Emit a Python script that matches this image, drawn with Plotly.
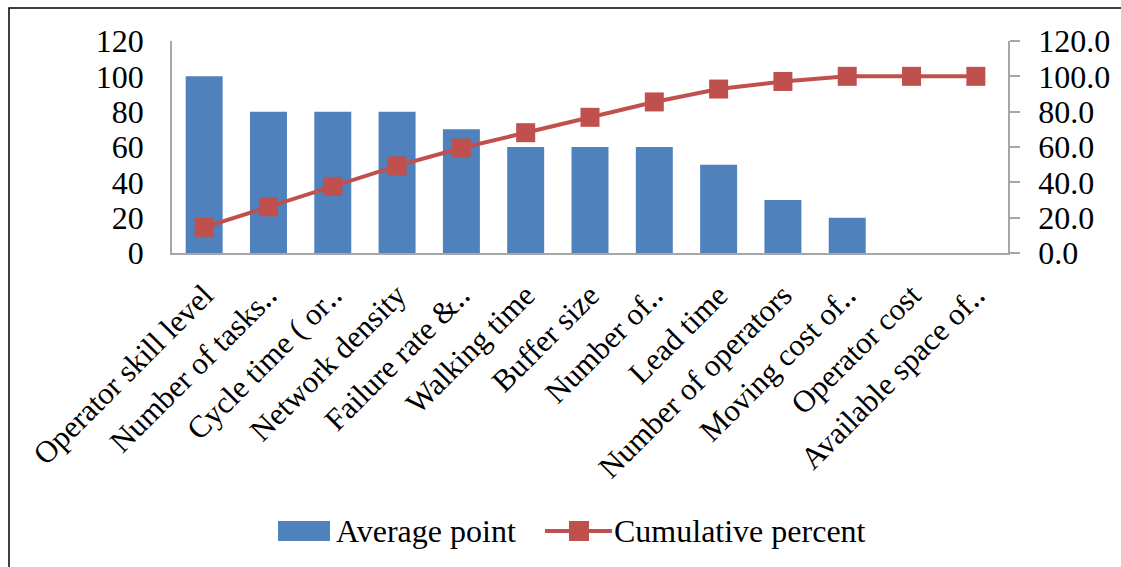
import plotly.graph_objects as go

categories = [
    "Operator skill level", "Number of tasks‥", "Cycle time ( or‥",
    "Network density", "Failure rate &‥", "Walking time", "Buffer size",
    "Number of‥", "Lead time", "Number of operators", "Moving cost of‥",
    "Operator cost", "Available space of‥",
]
average_point = [100, 80, 80, 80, 70, 60, 60, 60, 50, 30, 20, 0, 0]
cumulative_percent = [14.5, 26.1, 37.7, 49.3, 59.4, 68.1, 76.8, 85.5, 92.8, 97.1, 100.0, 100.0, 100.0]

left_ticks = [0, 20, 40, 60, 80, 100, 120]
right_ticks = [0, 20, 40, 60, 80, 100, 120]

BAR_COLOR = "#4F81BD"
LINE_COLOR = "#C0504D"
AXIS_COLOR = "#A6A6A6"

W, H = 1121, 567
ML, MR, MT, MB = 172, 113, 41, 314
pw, ph = W - ML - MR, H - MT - MB

def px_x(x):
    return (x - ML) / pw

def px_y(y):
    return (H - MB - y) / ph

font_family = "Liberation Serif"

fig = go.Figure()
fig.add_trace(go.Bar(
    x=categories, y=average_point, name="Average point",
    marker=dict(color=BAR_COLOR, line=dict(width=0)),
    showlegend=False,
))
fig.add_trace(go.Scatter(
    x=categories, y=cumulative_percent, name="Cumulative percent", yaxis="y2",
    mode="lines+markers",
    line=dict(color=LINE_COLOR, width=4),
    marker=dict(symbol="square", size=19, color=LINE_COLOR),
    showlegend=False,
))

fig.update_layout(
    width=W, height=H,
    margin=dict(l=ML, r=MR, t=MT, b=MB, autoexpand=False),
    paper_bgcolor="white", plot_bgcolor="white",
    bargap=0.425,
    font=dict(family=font_family, color="black"),
    showlegend=False,
    xaxis=dict(
        range=[-0.5, len(categories) - 0.5],
        tickangle=-45, tickfont=dict(size=31, family=font_family),
        showline=True, linecolor=AXIS_COLOR, linewidth=1.5,
        showgrid=False, ticks="", mirror=False, ticklabelstandoff=10,
    ),
    yaxis=dict(
        range=[0, 120], tickvals=left_ticks,
        tickfont=dict(size=32, family=font_family),
        showline=True, linecolor=AXIS_COLOR, linewidth=1.5,
        showgrid=False, zeroline=False, ticks="", ticklabelstandoff=20,
    ),
    yaxis2=dict(
        range=[0, 120], tickvals=right_ticks, tickformat=".1f",
        overlaying="y", side="right",
        tickfont=dict(size=32, family=font_family),
        showline=True, linecolor=AXIS_COLOR, linewidth=1.5,
        showgrid=False, zeroline=False,
        ticks="outside", ticklen=10, tickcolor=AXIS_COLOR, tickwidth=1.5,
        ticklabelstandoff=12,
    ),
)

# outer chart frame (top and left edges visible)
fig.add_shape(type="rect", xref="paper", yref="paper",
              x0=px_x(9), x1=px_x(1135), y0=px_y(580), y1=px_y(8),
              line=dict(color="black", width=1.5), fillcolor="rgba(0,0,0,0)",
              layer="below")

# legend: bar swatch + label
leg_y = 531
fig.add_shape(type="rect", xref="paper", yref="paper",
              x0=px_x(278), x1=px_x(330), y0=px_y(541), y1=px_y(521),
              line=dict(width=0), fillcolor=BAR_COLOR)
fig.add_annotation(xref="paper", yref="paper", x=px_x(334), y=px_y(leg_y),
                   xanchor="left", yanchor="middle", showarrow=False,
                   text="Average point", font=dict(size=32, family=font_family))

# legend: line swatch with square marker + label
fig.add_shape(type="line", xref="paper", yref="paper",
              x0=px_x(545), x1=px_x(612), y0=px_y(leg_y), y1=px_y(leg_y),
              line=dict(color=LINE_COLOR, width=4))
fig.add_shape(type="rect", xref="paper", yref="paper",
              x0=px_x(569), x1=px_x(589), y0=px_y(leg_y + 10), y1=px_y(leg_y - 10),
              line=dict(width=0), fillcolor=LINE_COLOR)
fig.add_annotation(xref="paper", yref="paper", x=px_x(612), y=px_y(leg_y),
                   xanchor="left", yanchor="middle", showarrow=False,
                   text="Cumulative percent", font=dict(size=32, family=font_family))

fig.write_html("out.html")
